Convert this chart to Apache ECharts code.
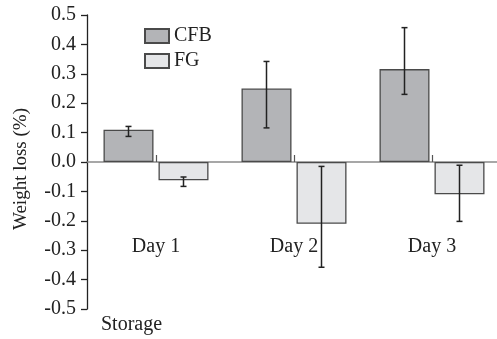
<!DOCTYPE html>
<html>
<head>
<meta charset="utf-8">
<script src="https://cdn.jsdelivr.net/npm/echarts@6/dist/echarts.min.js"></script>
<style>html,body{margin:0;padding:0;background:#fff;}#c{width:497px;height:339px;}</style>
</head>
<body>
<div id="c"></div>
<script>
var categories = ['Day 1', 'Day 2', 'Day 3'];
var cfbValues = [0.110, 0.250, 0.316];
var fgValues = [-0.062, -0.210, -0.110];
var cfbErrLow = [0.087, 0.116, 0.230];
var cfbErrHigh = [0.121, 0.342, 0.457];
var fgErrLow = [-0.083, -0.358, -0.202];
var fgErrHigh = [-0.051, -0.015, -0.011];
var yTicks = [-0.5, -0.4, -0.3, -0.2, -0.1, 0.0, 0.1, 0.2, 0.3, 0.4, 0.5];

var FONT = '"Liberation Serif", "Times New Roman", serif';
var BAR_W = 50, GAP = 5;

function errData(lo, hi) {
  return categories.map(function (c, i) { return [i, lo[i], hi[i]]; });
}
function errSeries(lo, hi, side) {
  return {
    type: 'custom',
    z: 10,
    silent: true,
    data: errData(lo, hi),
    renderItem: function (params, api) {
      var i = api.value(0);
      var pLo = api.coord([i, api.value(1)]);
      var pHi = api.coord([i, api.value(2)]);
      var x = pLo[0] + side * (BAR_W / 2 + GAP / 2);
      var cap = 3;
      var st = { stroke: '#222', lineWidth: 1.5 };
      return {
        type: 'group',
        children: [
          { type: 'line', shape: { x1: x, y1: pLo[1], x2: x, y2: pHi[1] }, style: st },
          { type: 'line', shape: { x1: x - cap, y1: pLo[1], x2: x + cap, y2: pLo[1] }, style: st },
          { type: 'line', shape: { x1: x - cap, y1: pHi[1], x2: x + cap, y2: pHi[1] }, style: st }
        ]
      };
    }
  };
}

var chart = echarts.init(document.getElementById('c'));
chart.setOption({
  animation: false,
  textStyle: { fontFamily: FONT, color: '#222' },
  grid: { left: 87, top: 15, bottom: 30, width: 414, containLabel: false, outerBoundsMode: 'none' },
  legend: {
    left: 144, top: 26, orient: 'vertical', padding: 0,
    itemWidth: 24, itemHeight: 14, itemGap: 5,
    icon: 'rect',
    textStyle: { fontFamily: FONT, fontSize: 20, color: '#222', lineHeight: 15 },
    data: ['CFB', 'FG']
  },
  xAxis: {
    type: 'category',
    data: categories,
    axisLine: { onZero: true, lineStyle: { color: '#8a8a8a', width: 1.5 } },
    axisTick: { show: true, alignWithLabel: true, inside: true, length: 7, lineStyle: { color: '#555', width: 1.2 } },
    axisLabel: { margin: -72, fontSize: 20, fontFamily: FONT, color: '#222' }
  },
  yAxis: {
    type: 'value',
    min: -0.5, max: 0.5, interval: 0.1,
    name: 'Weight loss (%)',
    nameLocation: 'middle',
    nameGap: 56,
    nameTextStyle: { fontSize: 19, fontFamily: FONT, color: '#222', padding: [0, 14, 0, 0] },
    splitLine: { show: false },
    axisLine: { show: true, onZero: false, lineStyle: { color: '#222', width: 1.3 } },
    axisTick: { show: true, length: 6, lineStyle: { color: '#222', width: 1.3 } },
    axisLabel: {
      margin: 11, fontSize: 20, fontFamily: FONT, color: '#222',
      formatter: function (v) { var s = v.toFixed(1); return s === '-0.0' ? '0.0' : s; }
    }
  },
  graphic: [{
    type: 'text', left: 101, top: 315,
    style: { text: 'Storage', font: '20px ' + FONT, fill: '#222' }
  }],
  series: [
    {
      name: 'CFB', type: 'bar', data: cfbValues, barWidth: BAR_W, barGap: '10%',
      itemStyle: { color: '#b3b4b7', borderColor: '#4a4a4a', borderWidth: 1.3 }
    },
    {
      name: 'FG', type: 'bar', data: fgValues, barWidth: BAR_W, barGap: '10%',
      itemStyle: { color: '#e5e6e8', borderColor: '#4a4a4a', borderWidth: 1.3 }
    },
    errSeries(cfbErrLow, cfbErrHigh, -1),
    errSeries(fgErrLow, fgErrHigh, 1)
  ]
});
</script>
</body>
</html>
